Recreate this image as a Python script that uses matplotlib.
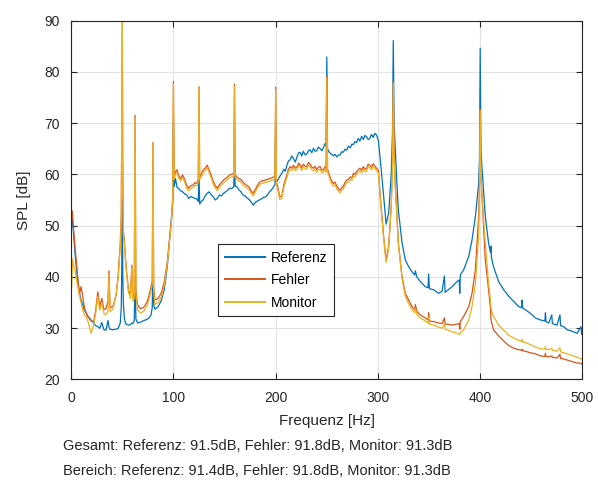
import numpy as np
import matplotlib.pyplot as plt

freq = [
    0, 0.4, 1.2, 2.5, 4, 6, 8, 9.7, 11.3, 13,
    14.6, 16.5, 19.5, 22, 24, 26, 28, 30, 32, 34,
    36, 37, 38, 41, 44, 46, 48, 49, 49.5, 50,
    50.5, 51, 52, 53, 54, 56, 58, 59.3, 60.3, 61.7,
    62.5, 63.3, 65, 68, 71, 74, 76, 78, 79.3, 80,
    80.7, 82, 85, 88, 91, 94, 96, 98, 99.3, 100,
    100.7, 102, 103.5, 105, 107, 109, 111, 113, 115, 117,
    119, 121, 123, 124.3, 125, 125.7, 127, 129, 131, 133,
    135, 137, 139, 141, 143, 145, 147, 149, 151, 153,
    155, 157, 159, 159.7, 160.4, 162, 164, 166, 168, 170,
    172, 174, 176, 178, 180, 182, 184, 186, 188, 190,
    192, 194, 196, 198, 199.3, 200, 200.7, 202, 204, 206,
    208, 209.5, 211, 212.5, 214, 215.8, 217.5, 219.2, 221, 222.5,
    224, 225.5, 227, 228.8, 230.5, 232, 233.7, 235.3, 237, 238.5,
    240, 241.8, 243.5, 245.2, 246.8, 248.2, 249.3, 250, 250.7, 252,
    254, 256.5, 258, 260, 261.5, 263, 264.5, 266, 267.8, 269.5,
    271, 273, 274.5, 276, 277.5, 279, 280.7, 282.4, 284, 285.7,
    287.3, 289, 290.5, 292, 293.7, 295.4, 297, 298.6, 300.5, 302.3,
    305.6, 308, 310.5, 313, 314.2, 315,
    315.8, 317, 318.6, 320, 323.6, 326.8, 330, 333.3, 336, 336.6,
    338, 341.4, 346.3, 349, 349.6, 350.3, 354.5, 359.4, 362.7, 365,
    365.7, 367.6, 372.5, 377.4, 379.5, 380, 380.6, 383.9, 388.8, 392,
    395.3, 398.5, 399.3, 400, 400.7, 401.7, 405, 408.2, 410, 410.5,
    411, 413, 418, 423, 428, 432.8, 437.7, 440.5, 441, 441.6,
    444.2, 449.1, 454, 458.9, 463.2, 463.8, 464.4, 467, 470, 470.6,
    475.2, 478, 478.6, 481.7, 485, 489.9, 494.8, 498.5, 499.2, 500,
]

referenz = [
    50, 51.5, 51, 48, 44, 40, 37, 35.5, 34.5, 33.5,
    33, 32.3, 31.6, 31, 30.5, 30.3, 30, 31.1, 29.7, 29.6,
    31.5, 30.2, 29.8, 29.7, 29.8, 30, 31, 34, 42, 55,
    40, 35, 32, 31, 30.8, 30.6, 30.7, 31, 30.9, 31.5,
    40, 31.8, 31, 31.2, 31.5, 31.7, 32, 32.5, 34, 45,
    34.5, 33.7, 34.2, 35.3, 37.5, 42, 46.6, 51, 54.4, 70,
    57.6, 59.2, 57.5, 57.3, 56.8, 56.6, 56.2, 56, 55.3, 55.7,
    55.5, 55.3, 55.2, 54.7, 60, 54.2, 54.7, 55, 55.8, 56.3,
    56.6, 56, 55.6, 55, 55.3, 56, 55.8, 56.3, 56.6, 56.9,
    57.3, 57.2, 57.6, 62, 57.7, 57.6, 57, 56.6, 56, 55.8,
    55.4, 55.1, 54.6, 54, 54.5, 54.8, 55, 55.2, 55.5, 55.6,
    56, 56.6, 57, 57.6, 58, 70, 58.5, 58.9, 59.6, 60.2,
    61, 60.6, 61.8, 62.6, 62.8, 63.6, 63, 62.4, 63.5, 64.2,
    64.3, 63.6, 64.5, 63.8, 64, 64.6, 64.8, 64.2, 65.1, 64.5,
    64.6, 65.3, 65, 64.6, 65.3, 66, 65.5, 82.9, 65, 64.4,
    64, 63.6, 63.9, 63.4, 63.8, 63.8, 64.4, 64.3, 64.9, 64.7,
    65.5, 65.2, 65.9, 65.8, 66.4, 66.2, 67, 66.5, 67.4, 66.8,
    67.6, 67.3, 66.8, 67, 67.8, 67.2, 68, 67.7, 66.5, 62.8,
    55.7, 50.3, 52.5, 60, 68, 86.1,
    70, 64.7, 58, 53, 46.6, 43.3, 42, 41, 40.4, 41.2,
    40, 39.1, 38.1, 37.9, 40.6, 37.7, 37.5, 36.8, 37.2, 40.2,
    37, 37.3, 38.1, 39.1, 39.4, 36.8, 40.4, 41.4, 44, 47.2,
    51.8, 58.2, 63, 84.6, 65, 61.5, 51.8, 46.6, 44.8, 46,
    43.8, 42, 39.1, 37.5, 36.2, 35.2, 34.2, 34, 35.5, 33.9,
    33.6, 32.9, 32, 31.6, 31.4, 33, 31.3, 31, 32.6, 30.9,
    30.6, 32.6, 30.5, 30.3, 29.7, 29.4, 29, 30.3, 28.8, 28.7,
]

fehler = [
    47, 53, 52.7, 49, 45.3, 41, 36.5, 38.1, 36.2, 34,
    33, 32.2, 31.4, 31.3, 33.5, 37.1, 34.2, 35.8, 33.6, 33.8,
    35.2, 41.2, 34, 34.3, 36.5, 40.5, 46.5, 52, 70, 90,
    60, 49, 47.2, 44, 41.5, 37.5, 36.5, 42.3, 36, 36.5,
    71.5, 37.5, 34.5, 33.8, 34.1, 35, 36.3, 38, 39.2, 66.2,
    38, 35.5, 35.8, 36.8, 39, 43, 47, 51, 55.5, 78.1,
    59.5, 60.5, 60.9, 59.8, 59.2, 59.9, 59, 57.8, 57.3, 57.8,
    57.9, 58.4, 58.2, 59, 77.1, 59.5, 59.9, 60.8, 61.2, 61.8,
    60.8, 59.8, 58.6, 57.8, 57.3, 58, 58.4, 58.9, 59.2, 59.5,
    59.9, 60, 60.2, 77.6, 60, 59.5, 59.2, 59, 58.5, 58.1,
    57.8, 57.5, 56.8, 56.3, 57, 57.8, 58.4, 58.7, 58.8, 58.9,
    59, 59.2, 59.3, 59.5, 59.6, 77, 58.5, 57.6, 55.6, 55.8,
    58, 59, 59.9, 61, 61.5, 61.2, 61.8, 61.2, 61.5, 62.2,
    61.8, 61.3, 62, 61.6, 61.5, 62.3, 62, 61.4, 61.2, 61.6,
    60.9, 61.4, 61.5, 60.8, 60.9, 61.5, 61, 79.2, 61, 60.2,
    59, 58.2, 58.5, 57.6, 57.2, 56.9, 57.4, 57.6, 58.4, 58.9,
    59, 59.5, 59.3, 60.2, 60, 60.5, 60.9, 61.2, 60.8, 61.5,
    61, 61.2, 62, 61.8, 61.4, 62.1, 61.6, 61.2, 60.8, 55.7,
    47.9, 43.3, 46, 54, 62, 78.2,
    64, 58, 51.8, 46.6, 40, 36.8, 35.5, 34.2, 33.6, 34.6,
    33.3, 32.6, 32, 31.6, 33, 31.4, 31.3, 31, 30.9, 32,
    30.8, 30.8, 30.6, 30.8, 30.9, 29.8, 31.3, 32.3, 34.2, 36.8,
    41.4, 51.8, 58, 72.7, 60, 56, 43.3, 37.5, 34, 31.8,
    31.3, 29.7, 28.5, 27.5, 26.6, 26.1, 25.8, 25.7, 25.9, 25.6,
    25.5, 25.2, 25, 24.6, 24.5, 25.1, 24.5, 24.4, 24.6, 24.3,
    24.2, 24.9, 24.1, 24, 23.8, 23.5, 23.2, 23.2, 23, 22.9,
]

monitor = [
    60, 38, 43.5, 42, 41, 38.5, 36.5, 35, 33.5, 32.5,
    32.3, 31.3, 29, 30.6, 33, 36.2, 33.5, 34.9, 32.9, 32.6,
    33.3, 40.5, 33.2, 33.8, 36.8, 39.8, 45.8, 51.3, 69, 89.6,
    59.5, 48.5, 46.6, 43.5, 41, 37, 35.8, 41.7, 35.3, 35.8,
    71, 36.5, 33.5, 33, 33.3, 34.3, 35.5, 37.2, 38.6, 65.8,
    37.2, 34.6, 35, 36, 38.3, 42.5, 46.5, 50.5, 55, 77.7,
    59, 60, 60.4, 59.3, 58.8, 59.4, 58.5, 57.3, 56.8, 57.3,
    57.4, 57.9, 57.7, 58.5, 76.7, 59, 59.4, 60.3, 60.7, 61.3,
    60.3, 59.3, 58.1, 57.3, 56.8, 57.5, 57.9, 58.4, 58.7, 59,
    59.4, 59.5, 59.7, 77.2, 59.5, 59, 58.7, 58.5, 58, 57.6,
    57.3, 57, 56.3, 55.8, 56.5, 57.3, 57.9, 58.2, 58.3, 58.4,
    58.5, 58.7, 58.8, 59, 59.1, 76.6, 58, 57.1, 55.1, 55.3,
    57.5, 58.5, 59.4, 60.5, 61, 60.7, 61.3, 60.7, 61, 61.7,
    61.3, 60.8, 61.5, 61.1, 61, 61.8, 61.5, 60.9, 60.7, 61.1,
    60.4, 60.9, 61, 60.3, 60.4, 61, 60.5, 78.8, 60.5, 59.7,
    58.5, 57.7, 58, 57.1, 56.7, 56.4, 56.9, 57.1, 57.9, 58.4,
    58.5, 59, 58.8, 59.7, 59.5, 60, 60.4, 60.7, 60.3, 61,
    60.5, 60.7, 61.5, 61.3, 60.9, 61.6, 61.1, 60.7, 60.3, 55.2,
    47.4, 42.8, 45.5, 53.5, 61.5, 77.8,
    63.5, 57.5, 51.5, 46.3, 39.7, 36.2, 34.8, 33.6, 33, 33.9,
    32.7, 32, 31.4, 31, 32.2, 30.8, 30.6, 30.2, 30, 30.8,
    29.8, 29.7, 29.3, 29, 28.8, 28.7, 29.2, 29.7, 31.6, 34.2,
    38.8, 47.9, 56, 72.5, 60, 56, 46.6, 38.8, 35.5, 34.2,
    33.5, 32.3, 30.6, 29.6, 28.6, 28.1, 27.6, 27.4, 27.8, 27.3,
    27.2, 26.8, 26.3, 26, 25.9, 26.4, 25.9, 25.8, 26.1, 25.7,
    25.5, 26.2, 25.4, 25.2, 25, 24.7, 24.3, 24.1, 23.9, 23.8,
]

gesamt = 'Gesamt: Referenz: 91.5dB, Fehler: 91.8dB, Monitor: 91.3dB'
bereich = 'Bereich: Referenz: 91.4dB, Fehler: 91.8dB, Monitor: 91.3dB'

plt.rcParams['font.family'] = ['Liberation Sans', 'DejaVu Sans']
dunkel = '#262626'

fig = plt.figure(figsize=(5.98, 4.82), dpi=100)
ax = fig.add_axes([0.119, 0.2127, 0.855, 0.7447])

ax.plot(freq, referenz, color='#0072BD', lw=0.9, label='Referenz')
ax.plot(freq, fehler, color='#D95319', lw=0.9, label='Fehler')
ax.plot(freq, monitor, color='#EDB120', lw=0.9, label='Monitor')

ax.set_xlim(0, 500)
ax.set_ylim(20, 90)
ax.set_xticks(np.arange(0, 501, 100))
ax.set_yticks(np.arange(20, 91, 10))
ax.grid(True, color='#e3e3e3', lw=0.8)
ax.tick_params(direction='in', top=True, right=True, length=4, width=0.8,
               colors=dunkel, labelsize=10, pad=8)
for s in ax.spines.values():
    s.set_color(dunkel)
    s.set_linewidth(0.8)

ax.set_xlabel('Frequenz [Hz]', fontsize=11, color=dunkel, labelpad=7)
ax.set_ylabel('SPL [dB]', fontsize=11, color=dunkel, labelpad=10)

leg = ax.legend(loc='upper left', bbox_to_anchor=(0.3645, 0.494),
                bbox_transform=fig.transFigure, fancybox=False,
                edgecolor=dunkel, framealpha=1, fontsize=10,
                handlelength=2.9, handletextpad=0.4, labelspacing=0.6,
                borderpad=0.5, borderaxespad=0)
leg.get_frame().set_linewidth(0.8)
for line in leg.get_lines():
    line.set_linewidth(1.4)

fig.text(0.105, 1 - 446 / 482, gesamt, fontsize=10.5, color=dunkel, va='center')
fig.text(0.105, 1 - 471 / 482, bereich, fontsize=10.5, color=dunkel, va='center')

fig.savefig('out.png', dpi=100)
